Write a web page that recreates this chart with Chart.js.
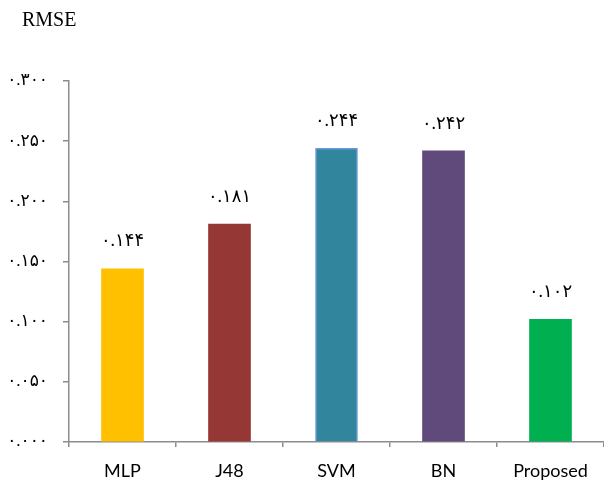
<!DOCTYPE html>
<html>
<head>
<meta charset="utf-8">
<script src="https://cdn.jsdelivr.net/npm/chart.js@4/dist/chart.umd.min.js"></script>
<style>
  html, body { margin: 0; padding: 0; background: #fff; }
  #wrap { width: 604px; height: 481px; }
</style>
</head>
<body>
<div id="wrap"><canvas id="rmse-chart" width="604" height="481"></canvas></div>
<script>
    "use strict";

    // RMSE per classifier
    var methods = ["MLP", "J48", "SVM", "BN", "Proposed"];
    var rmse = [0.144, 0.181, 0.244, 0.242, 0.102];
    var barColors = ["#FFC000", "#953735", "#31859C", "#604A7B", "#00B050"];
    var yTicks = [0, 0.05, 0.1, 0.15, 0.2, 0.25, 0.3];

    var faDigits = "۰۱۲۳۴۵۶۷۸۹";
    function toFa(v, decimals) {
        return v.toFixed(decimals).replace(/[0-9]/g, function (d) {
            return faDigits[+d];
        });
    }

    var serif = "'Liberation Serif', 'DejaVu Serif', 'DejaVu Sans', serif";
    var gray = "#8C8C8C";

    // value labels above bars + axis title
    var labelsPlugin = {
        id: "labels",
        afterDatasetsDraw: function (chart) {
            var ctx = chart.ctx;
            ctx.save();
            ctx.fillStyle = "#000";
            ctx.textAlign = "center";
            ctx.textBaseline = "middle";
            ctx.font = "18px " + serif;
            chart.getDatasetMeta(0).data.forEach(function (bar, i) {
                ctx.fillText(toFa(rmse[i], 3), bar.x, bar.y - 27);
            });
            ctx.textAlign = "left";
            ctx.font = "20px " + serif;
            ctx.fillText("RMSE", 22, 21);
            ctx.restore();
        }
    };

    var ctx1 = document.getElementById("rmse-chart").getContext("2d");
    var rmseChart = new Chart(ctx1, {
        type: "bar",
        data: {
            labels: methods,
            datasets: [{
                data: rmse,
                backgroundColor: barColors,
                borderColor: ["transparent", "transparent", "#6A9BD8", "transparent", "transparent"],
                borderWidth: [0, 0, 1.5, 0, 0],
                barThickness: 42
            }]
        },
        options: {
            responsive: false,
            animation: false,
            layout: { padding: { top: 81, right: 0, bottom: 0, left: 0 } },
            plugins: {
                legend: { display: false },
                tooltip: { enabled: false }
            },
            scales: {
                x: {
                    grid: {
                        display: true,
                        drawOnChartArea: false,
                        drawTicks: true,
                        tickLength: 5,
                        color: gray,
                        lineWidth: 1.5,
                        offset: true
                    },
                    border: { color: gray, width: 1.5 },
                    ticks: {
                        color: "#000",
                        font: { family: "Lato, 'Open Sans', sans-serif", size: 18 },
                        padding: 13
                    },
                    afterFit: function (scale) { scale.height = 39; }
                },
                y: {
                    min: 0,
                    max: 0.3,
                    afterBuildTicks: function (scale) {
                        scale.ticks = yTicks.map(function (v) { return { value: v }; });
                    },
                    grid: {
                        display: true,
                        drawOnChartArea: false,
                        tickLength: 6,
                        color: gray,
                        lineWidth: 1.5
                    },
                    border: { color: gray, width: 1.5 },
                    ticks: {
                        color: "#000",
                        font: { family: serif, size: 17 },
                        padding: 15,
                        callback: function (v) { return toFa(v, 3); }
                    },
                    afterFit: function (scale) { scale.width = 69; }
                }
            }
        },
        plugins: [labelsPlugin]
    });
</script>
</body>
</html>
